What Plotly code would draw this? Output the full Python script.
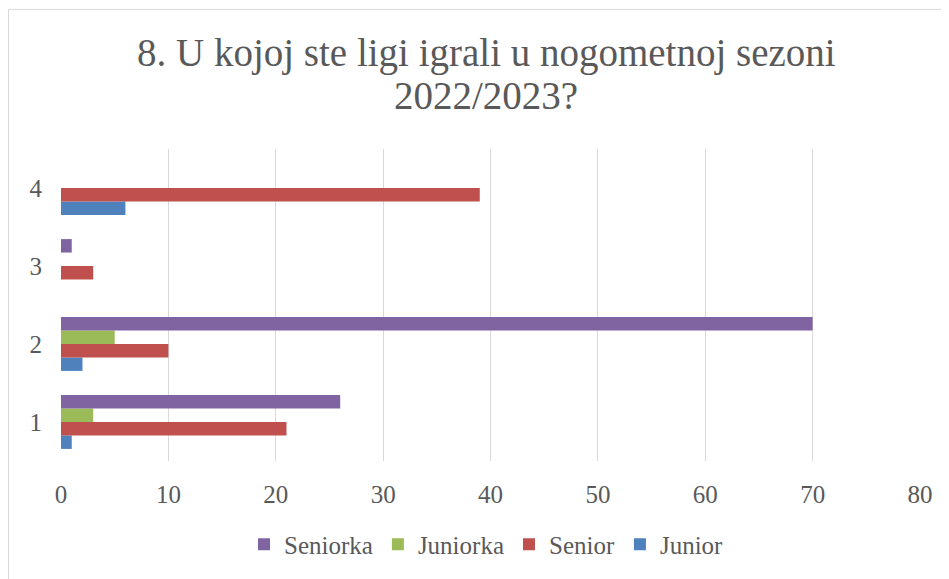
import plotly.graph_objects as go

categories = ["1", "2", "3", "4"]
junior = [1, 2, 0, 6]
senior = [21, 10, 3, 39]
juniorka = [3, 5, 0, 0]
seniorka = [26, 70, 1, 0]
x_ticks = [0, 10, 20, 30, 40, 50, 60, 70, 80]
title_lines = ["8. U kojoj ste ligi igrali u nogometnoj sezoni", "2022/2023?"]

series = [
    ("Junior", junior, "#4F81BD"),
    ("Senior", senior, "#C0504D"),
    ("Juniorka", juniorka, "#9BBB59"),
    ("Seniorka", seniorka, "#8064A2"),
]

fig = go.Figure()
for name, vals, color in series:
    fig.add_trace(go.Bar(y=categories, x=vals, name=name, orientation="h",
                         marker=dict(color=color, line=dict(width=0))))

W, H = 941, 571
L, R, T, B = 53, 29, 141, 116
pw, ph = W - L - R, H - T - B

font_family = "Liberation Serif"
grey = "#595959"


def py(fig_y):
    return 1 + (T - fig_y) / ph


def px(fig_x):
    return (fig_x - L) / pw


annotations = [
    dict(text=title_lines[0], xref="paper", yref="paper", x=px(478), y=py(44),
         xanchor="center", yanchor="middle", showarrow=False,
         font=dict(family=font_family, size=39, color=grey)),
    dict(text=title_lines[1], xref="paper", yref="paper", x=px(478), y=py(87),
         xanchor="center", yanchor="middle", showarrow=False,
         font=dict(family=font_family, size=39, color=grey)),
]

fig.update_layout(
    width=W, height=H,
    barmode="group", bargap=0.31, bargroupgap=0,
    paper_bgcolor="white", plot_bgcolor="white",
    margin=dict(l=L, r=R, t=T, b=B),
    font=dict(family=font_family, color=grey),
    annotations=annotations,
    legend=dict(orientation="h", traceorder="reversed", x=0.5 - 4 / pw, xanchor="center",
                y=-(539 - (H - B)) / ph, yanchor="middle", font=dict(size=25, color=grey),
                bgcolor="rgba(0,0,0,0)"),
    xaxis=dict(range=[0, 80], tickvals=x_ticks, showgrid=True, gridcolor="#D9D9D9",
               gridwidth=1, zeroline=False, showline=False, automargin=False,
               tickfont=dict(size=25, color=grey), ticks="", ticklabelstandoff=16),
    yaxis=dict(range=[-0.5, 3.5], showgrid=False, zeroline=False, showline=False, automargin=False,
               tickfont=dict(size=25, color=grey), ticks="", ticklabelstandoff=18),
    shapes=[dict(type="rect", xref="paper", yref="paper",
                 x0=-(L - 0.5) / pw, x1=1 + (R + 20) / pw,
                 y0=-(B + 20) / ph, y1=1 + (T - 0.5) / ph,
                 line=dict(color="#D9D9D9", width=1))],
)
fig.write_html("out.html")
